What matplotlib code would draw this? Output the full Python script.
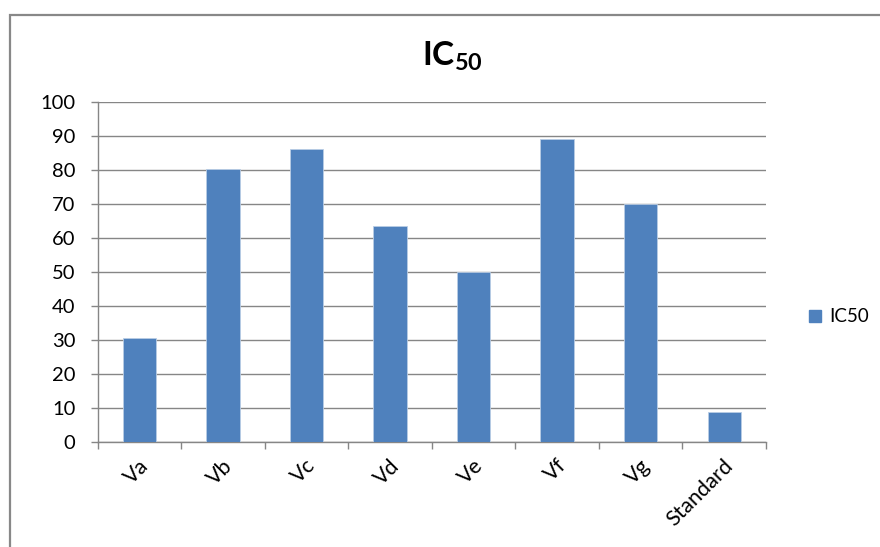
import matplotlib
matplotlib.use('Agg')
import matplotlib.pyplot as plt
from matplotlib.lines import Line2D
from matplotlib.patches import Rectangle
from matplotlib.transforms import ScaledTranslation

categories = ['Va', 'Vb', 'Vc', 'Vd', 'Ve', 'Vf', 'Vg', 'Standard']
ic50 = [30.6, 80.3, 86.1, 63.4, 50.0, 89.0, 70.0, 8.8]
yticks = [0, 10, 20, 30, 40, 50, 60, 70, 80, 90, 100]

plt.rcParams['font.family'] = ['Lato', 'DejaVu Sans']
plt.rcParams['mathtext.fontset'] = 'custom'
plt.rcParams['mathtext.rm'] = 'Lato'
plt.rcParams['mathtext.bf'] = 'Lato:bold'

grey = '#868686'
blue = '#4f81bd'

fig = plt.figure(figsize=(8.8, 5.47), dpi=100)

# chart area frame (clipped on the right and bottom like the original)
fig.patches.append(Rectangle((10 / 880, -0.05), 1.05, 1 - 15 / 547 + 0.05,
                             transform=fig.transFigure, fill=False,
                             edgecolor='#888888', linewidth=1.6))

ax = fig.add_axes([97.7 / 880, 1 - 441.7 / 547, (766 - 97.7) / 880, (441.7 - 101.7) / 547])

x = list(range(len(categories)))
ax.bar(x, ic50, width=0.4, color=blue, edgecolor='#b9cde5', linewidth=0.6, zorder=3)

ax.set_xlim(-0.5, len(categories) - 0.5)
ax.set_ylim(0, 100)
ax.set_yticks(yticks)
ax.yaxis.grid(True, color=grey, linewidth=1.0)
ax.set_axisbelow(True)

for s in ['top', 'right']:
    ax.spines[s].set_visible(False)
for s in ['left', 'bottom']:
    ax.spines[s].set_color(grey)
    ax.spines[s].set_linewidth(1.0)

ax.tick_params(axis='y', length=5, width=1, color=grey, pad=11, labelsize=14.5)
ax.set_xticks(x)
ax.set_xticklabels(categories, rotation=45, ha='right', va='center',
                   rotation_mode='anchor', fontsize=15.5)
ax.tick_params(axis='x', which='major', length=0, pad=15)
ax.set_xticks([i - 0.5 for i in range(len(categories) + 1)], minor=True)
ax.tick_params(axis='x', which='minor', length=5, width=1, color=grey)
off = ScaledTranslation(6 / 100, 0, fig.dpi_scale_trans)
for lab in ax.get_xticklabels():
    lab.set_transform(lab.get_transform() + off)

fig.text(452 / 880, 1 - 66 / 547, r'$\mathbf{IC_{50}}$', ha='center',
         va='baseline', fontsize=24)

handle = Line2D([], [], marker='s', linestyle='', color=blue, markersize=8)
fig.legend([handle], ['IC50'], loc='center left', bbox_to_anchor=(799 / 880, 1 - 317 / 547),
           frameon=False, borderpad=0, handlelength=0.7, handletextpad=0.4, fontsize=13.5)

plt.savefig('out.png', dpi=100)
